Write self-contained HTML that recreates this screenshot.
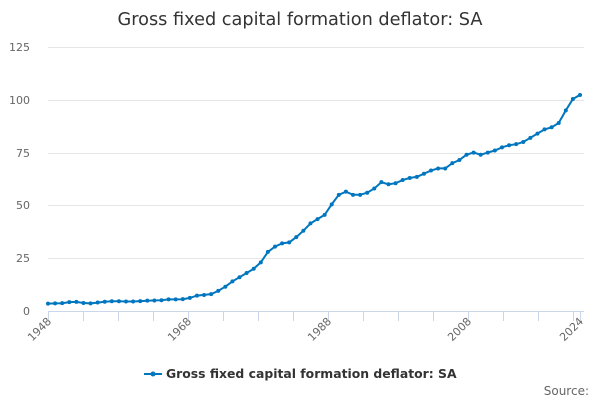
<!DOCTYPE html>
<html><head><meta charset="utf-8"><style>
body{margin:0;background:#fff;font-family:"DejaVu Sans",sans-serif;}
</style></head><body>
<svg width="600" height="400" xmlns="http://www.w3.org/2000/svg" font-family="DejaVu Sans, sans-serif">
<text x="300" y="25" text-anchor="middle" font-size="17.7" fill="#333">Gross fixed capital formation deflator: SA</text>
<g stroke="#e6e6e6" stroke-width="1">
<line x1="48" x2="584" y1="47.5" y2="47.5"/>
<line x1="48" x2="584" y1="100.5" y2="100.5"/>
<line x1="48" x2="584" y1="153.5" y2="153.5"/>
<line x1="48" x2="584" y1="205.5" y2="205.5"/>
<line x1="48" x2="584" y1="258.5" y2="258.5"/>
</g>
<line x1="48" x2="584" y1="311.5" y2="311.5" stroke="#ccd6eb"/>
<g stroke="#ccd6eb" id="ticks"></g>
<g font-size="11" fill="#666" text-anchor="end">
<text x="30" y="51">125</text><text x="30" y="104">100</text><text x="30" y="157">75</text>
<text x="30" y="209">50</text><text x="30" y="262">25</text><text x="30" y="315">0</text>
</g>
<g font-size="11" fill="#666" text-anchor="end">
<text transform="translate(52,322) rotate(-45)">1948</text>
<text transform="translate(192,322) rotate(-45)">1968</text>
<text transform="translate(332,322) rotate(-45)">1988</text>
<text transform="translate(472,322) rotate(-45)">2008</text>
<text transform="translate(584,322) rotate(-45)">2024</text>
</g>
<g id="series"></g>
<line x1="144" x2="162" y1="374" y2="374" stroke="#0076bf" stroke-width="2"/>
<circle cx="153" cy="374" r="2.5" fill="#0076bf"/>
<text x="166" y="378" font-size="12.4" font-weight="bold" fill="#333">Gross fixed capital formation deflator: SA</text>
<text x="589" y="395" font-size="12" fill="#666" text-anchor="end">Source:</text>
</svg>
<script>
var v=[3.5,3.6,3.7,4.2,4.3,3.8,3.6,4.0,4.4,4.6,4.6,4.5,4.5,4.7,4.9,5.0,5.1,5.5,5.5,5.6,6.2,7.3,7.6,8.0,9.5,11.5,14,16,18,20,23,28,30.5,32,32.5,35,38,41.5,43.5,45.5,50.5,55,56.5,55,55,56,58,61,60,60.5,62,63,63.5,65,66.5,67.5,67.5,70,71.5,74,75,74,75,76,77.5,78.5,79,80,82,84,86,87,89,95,100.4,102.3];
var ns="http://www.w3.org/2000/svg",g=document.getElementById("series"),pts=[];
for(var i=0;i<v.length;i++){var x=48+i*(532/(v.length-1));var y=311-v[i]*2.112;pts.push(x.toFixed(1)+","+y.toFixed(1));
var c=document.createElementNS(ns,"circle");c.setAttribute("cx",x);c.setAttribute("cy",y);c.setAttribute("r","2");c.setAttribute("fill","#0076bf");g.appendChild(c);}
var p=document.createElementNS(ns,"polyline");p.setAttribute("points",pts.join(" "));p.setAttribute("fill","none");p.setAttribute("stroke","#0076bf");p.setAttribute("stroke-width","2");g.insertBefore(p,g.firstChild);
var t=document.getElementById("ticks");
for(var k=0;k<=15;k++){var l=document.createElementNS(ns,"line");var xx=48.5+k*35;l.setAttribute("x1",xx);l.setAttribute("x2",xx);l.setAttribute("y1",311);l.setAttribute("y2",321);t.appendChild(l);}
var l2=document.createElementNS(ns,"line");l2.setAttribute("x1",580.5);l2.setAttribute("x2",580.5);l2.setAttribute("y1",311);l2.setAttribute("y2",321);t.appendChild(l2);
</script>
</body></html>
